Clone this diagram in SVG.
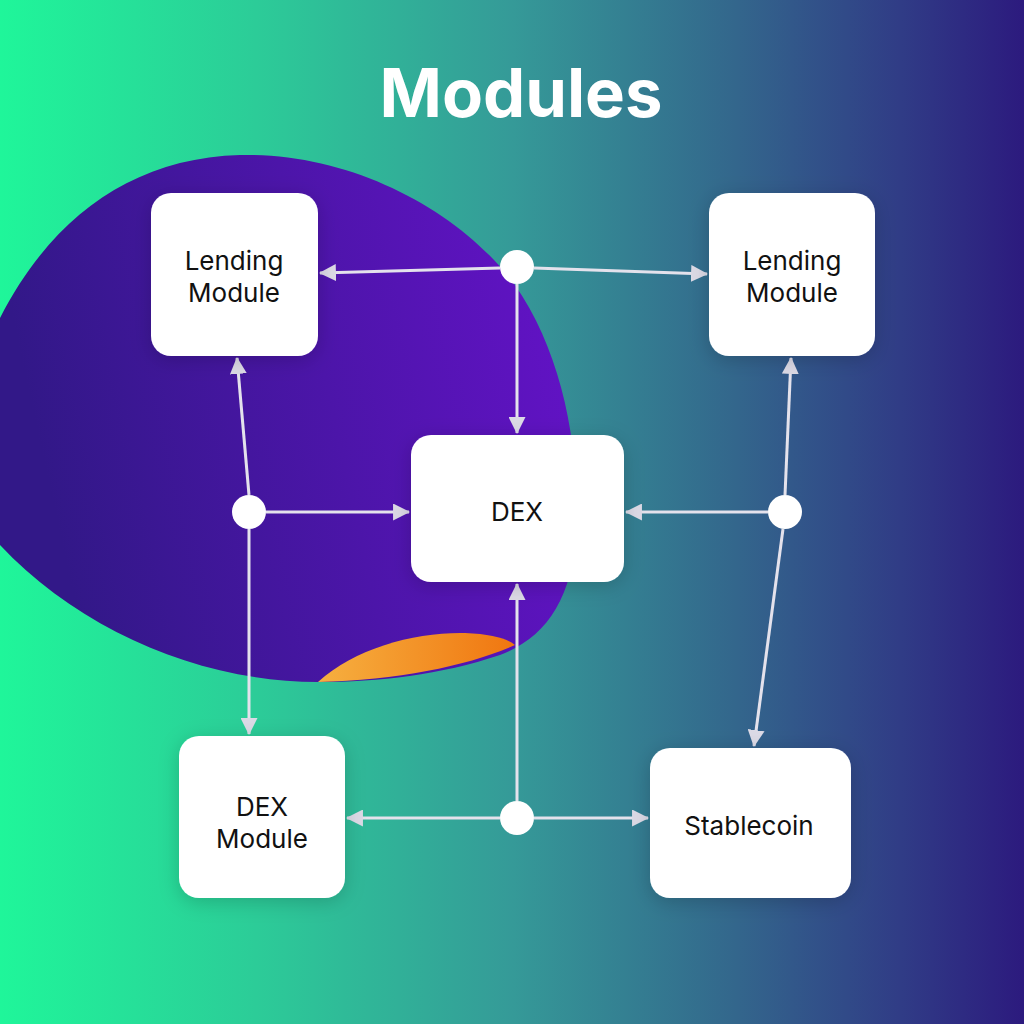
<svg xmlns="http://www.w3.org/2000/svg" width="1024" height="1024" viewBox="0 0 1024 1024">
<defs>
<linearGradient id="bg" x1="0" y1="0" x2="1" y2="0">
<stop offset="0" stop-color="#1ff69a"/>
<stop offset="0.25" stop-color="#2ccc98"/>
<stop offset="0.5" stop-color="#359a98"/>
<stop offset="0.72" stop-color="#33668c"/>
<stop offset="0.88" stop-color="#303c86"/>
<stop offset="1" stop-color="#2c1a7e"/>
</linearGradient>
<linearGradient id="blob" x1="0" y1="0.2" x2="1" y2="0">
<stop offset="0" stop-color="#321888"/>
<stop offset="1" stop-color="#6612ca"/>
</linearGradient>
<linearGradient id="orange" x1="0" y1="0" x2="1" y2="0">
<stop offset="0" stop-color="#f6b040"/>
<stop offset="1" stop-color="#f07610"/>
</linearGradient>
<filter id="shadow" x="-30%" y="-30%" width="160%" height="160%">
<feDropShadow dx="0" dy="4" stdDeviation="10" flood-color="#000" flood-opacity="0.18"/>
</filter>
<marker id="arr" viewBox="0 0 16 16" refX="15" refY="8" markerWidth="17" markerHeight="17" markerUnits="userSpaceOnUse" orient="auto">
<path d="M0,0 L16,8 L0,16 Z" fill="#dcdae6"/>
</marker>
<style>
.node rect{fill:#fff;filter:url(#shadow)}
.node text{font-family:Inter,"Noto Sans","Liberation Sans",sans-serif;font-size:26px;fill:#111;text-anchor:middle}
.edge{stroke:#e4e2ec;stroke-width:3;fill:none;marker-end:url(#arr)}
.junction{fill:#fff}
</style>
</defs>
<rect width="1024" height="1024" fill="url(#bg)"/>
<path d="M0,318 C50,220 130,158 240,155 C350,152 460,210 515,285 C560,350 580,440 576,530 C573,600 545,638 500,655 C440,675 380,682 318,682 C200,682 80,630 0,545 Z" fill="url(#blob)"/>
<path d="M318,682 C355,648 415,632 465,633 C492,634 508,639 515,645 C470,665 400,680 318,682 Z" fill="url(#orange)"/>
<text x="521" y="117" font-family="Inter,'Noto Sans','Liberation Sans',sans-serif" font-size="67" font-weight="700" fill="#fff" text-anchor="middle">Modules</text>
<g id="connectors">
<line class="edge" x1="500" y1="268" x2="320" y2="273"/>
<line class="edge" x1="534" y1="268" x2="707" y2="274"/>
<line class="edge" x1="517" y1="284" x2="517" y2="433"/>
<line class="edge" x1="249" y1="495" x2="237" y2="358"/>
<line class="edge" x1="266" y1="512" x2="409" y2="512"/>
<line class="edge" x1="249" y1="529" x2="249" y2="734"/>
<line class="edge" x1="768" y1="512" x2="626" y2="512"/>
<line class="edge" x1="785" y1="495" x2="791" y2="358"/>
<line class="edge" x1="783" y1="529" x2="754" y2="746"/>
<line class="edge" x1="517" y1="801" x2="517" y2="584"/>
<line class="edge" x1="500" y1="818" x2="347" y2="818"/>
<line class="edge" x1="534" y1="818" x2="648" y2="818"/>
<circle class="junction" cx="517" cy="267" r="17"/>
<circle class="junction" cx="249" cy="512" r="17"/>
<circle class="junction" cx="785" cy="512" r="17"/>
<circle class="junction" cx="517" cy="818" r="17"/>
</g>
<g id="lending-left" class="node">
<rect x="151" y="193" width="167" height="163" rx="20"/>
<text x="234" y="270">Lending</text>
<text x="234" y="302">Module</text>
</g>
<g id="lending-right" class="node">
<rect x="709" y="193" width="166" height="163" rx="20"/>
<text x="792" y="270">Lending</text>
<text x="792" y="302">Module</text>
</g>
<g id="dex" class="node">
<rect x="411" y="435" width="213" height="147" rx="20"/>
<text x="517" y="521">DEX</text>
</g>
<g id="dex-module" class="node">
<rect x="179" y="736" width="166" height="162" rx="20"/>
<text x="262" y="816">DEX</text>
<text x="262" y="848">Module</text>
</g>
<g id="stablecoin" class="node">
<rect x="650" y="748" width="201" height="150" rx="20"/>
<text x="749" y="835">Stablecoin</text>
</g>
</svg>
